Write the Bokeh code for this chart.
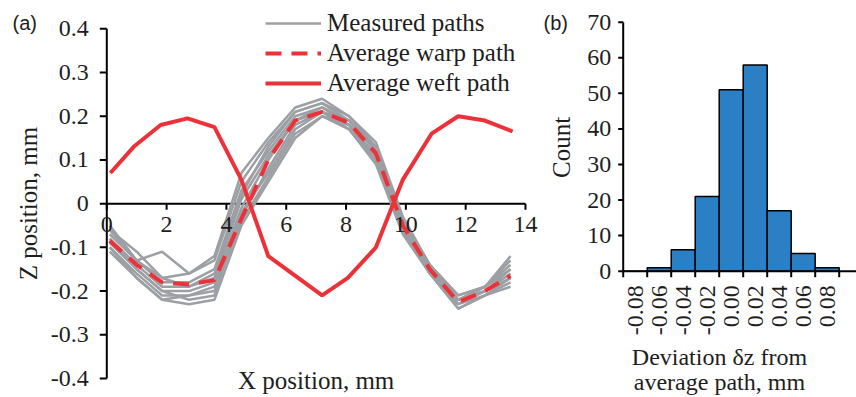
import math
from bokeh.plotting import figure
from bokeh.models import Legend, LegendItem, Label, LabelSet, Range1d, ColumnDataSource
from bokeh.layouts import row
from bokeh.embed import file_html
from bokeh.resources import INLINE
from bokeh.core.properties import value

# ---------------- data: panel (a) ----------------
x_meas = [0.1, 1.0, 1.85, 2.75, 3.6, 4.5, 5.4, 6.3, 7.2, 8.1, 9.0, 9.9, 10.8, 11.75, 12.65, 13.5]
meas_1 = [-0.05, -0.13, -0.11, -0.16, -0.12, 0.07, 0.15, 0.22, 0.24, 0.20, 0.14, -0.03, -0.14, -0.21, -0.19, -0.12]
meas_2 = [-0.06, -0.11, -0.17, -0.16, -0.13, 0.05, 0.14, 0.21, 0.23, 0.19, 0.13, -0.04, -0.15, -0.22, -0.19, -0.14]
meas_3 = [-0.07, -0.13, -0.18, -0.18, -0.15, 0.03, 0.12, 0.20, 0.22, 0.19, 0.12, -0.05, -0.15, -0.22, -0.20, -0.15]
meas_4 = [-0.08, -0.14, -0.19, -0.19, -0.17, 0.01, 0.11, 0.19, 0.22, 0.18, 0.11, -0.05, -0.15, -0.23, -0.20, -0.16]
meas_5 = [-0.09, -0.15, -0.20, -0.20, -0.18, -0.01, 0.10, 0.19, 0.21, 0.18, 0.11, -0.06, -0.16, -0.23, -0.21, -0.17]
meas_6 = [-0.10, -0.16, -0.21, -0.21, -0.19, -0.03, 0.08, 0.18, 0.21, 0.17, 0.10, -0.06, -0.16, -0.24, -0.21, -0.18]
meas_7 = [-0.11, -0.17, -0.22, -0.21, -0.20, -0.04, 0.06, 0.16, 0.20, 0.17, 0.09, -0.07, -0.16, -0.24, -0.21, -0.19]
meas_8 = [-0.10, -0.17, -0.22, -0.23, -0.22, -0.05, 0.05, 0.15, 0.20, 0.18, 0.10, -0.06, -0.15, -0.22, -0.20, -0.17]
meas_9 = [-0.08, -0.15, -0.20, -0.22, -0.21, -0.02, 0.07, 0.17, 0.21, 0.19, 0.12, -0.05, -0.14, -0.22, -0.19, -0.15]
meas_10 = [-0.06, -0.13, -0.17, -0.19, -0.16, 0.02, 0.13, 0.21, 0.23, 0.20, 0.13, -0.04, -0.14, -0.21, -0.19, -0.13]

x_warp = [0.1, 1.0, 1.85, 2.75, 3.6, 4.5, 5.4, 6.3, 7.2, 8.1, 9.0, 9.9, 10.8, 11.75, 12.65, 13.5]
warp_avg = [-0.085, -0.14, -0.18, -0.185, -0.175, -0.035, 0.10, 0.19, 0.21, 0.185, 0.115, -0.05, -0.15, -0.225, -0.20, -0.165]

x_weft = [0.12, 0.9, 1.8, 2.7, 3.6, 4.5, 5.4, 7.2, 8.06, 9.0, 9.9, 10.86, 11.75, 12.64, 13.57]
weft_avg = [0.07, 0.13, 0.18, 0.195, 0.175, 0.055, -0.12, -0.21, -0.17, -0.10, 0.055, 0.16, 0.20, 0.19, 0.165]

x_ticks_a = [0, 2, 4, 6, 8, 10, 12, 14]
x_labels_a = ["0", "2", "4", "6", "8", "10", "12", "14"]
y_ticks_a = [0.4, 0.3, 0.2, 0.1, 0.0, -0.1, -0.2, -0.3, -0.4]
y_labels_a = ["0.4", "0.3", "0.2", "0.1", "0", "-0.1", "-0.2", "-0.3", "-0.4"]

# ---------------- data: panel (b) ----------------
bin_labels = ["-0.08", "-0.06", "-0.04", "-0.02", "0.00", "0.02", "0.04", "0.06", "0.08"]
bin_counts = [0, 1, 6, 21, 51, 58, 17, 5, 1]
y_ticks_b = [0, 10, 20, 30, 40, 50, 60, 70]
y_labels_b = ["0", "10", "20", "30", "40", "50", "60", "70"]

SERIF = "Liberation Serif"
SANS = "Liberation Sans"
TXT = "#1e1e1e"
GRAY = "#9c9fa4"
RED = "#ec3238"
BLUE = "#2a7fc5"


def bare_figure(w, h, xr, yr):
    p = figure(width=w, height=h, x_range=Range1d(*xr), y_range=Range1d(*yr),
               x_axis_location=None, y_axis_location=None,
               output_backend="svg", toolbar_location=None,
               min_border_left=0, min_border_right=0, min_border_top=0, min_border_bottom=0)
    p.grid.visible = False
    p.outline_line_color = None
    p.background_fill_color = "white"
    p.border_fill_color = "white"
    return p


def label(p, x, y, text, size="24px", font=SERIF, align="center", baseline="middle", angle=0.0):
    p.add_layout(Label(x=x, y=y, text=text, text_align=align, text_baseline=baseline,
                       text_font=font, text_font_size=size, text_color=TXT, angle=angle))


def tick_labels(p, xs, ys, texts, **kw):
    src = ColumnDataSource(dict(x=xs, y=ys, t=texts))
    p.add_layout(LabelSet(x="x", y="y", text="t", source=src, text_font=value(SERIF),
                          text_font_size="24px", text_color=TXT, **kw))


# ---------------- panel (a) ----------------
# frame = whole canvas; ranges chosen so the axes sit where the reference has them
p1 = bare_figure(540, 397, (-3.554, 14.502), (-0.4435, 0.4647))

# y axis (at x = 0)
p1.segment(x0=0, y0=min(y_ticks_a), x1=0, y1=max(y_ticks_a), line_color="black", line_width=2)
p1.ray(x=[0] * len(y_ticks_a), y=y_ticks_a, length=7, length_units="screen", angle=math.pi,
       line_color="black", line_width=2)
tick_labels(p1, [0] * len(y_ticks_a), y_ticks_a, y_labels_a, x_offset=-18,
            text_align="right", text_baseline="middle")
# x axis (at z = 0)
p1.segment(x0=min(x_ticks_a), y0=0, x1=max(x_ticks_a), y1=0, line_color="black", line_width=2)
p1.ray(x=x_ticks_a, y=[0] * len(x_ticks_a), length=6, length_units="screen", angle=-math.pi / 2,
       line_color="black", line_width=2)
tick_labels(p1, x_ticks_a, [0] * len(x_ticks_a), x_labels_a, y_offset=-13,
            text_align="center", text_baseline="top")

meas_all = [meas_1, meas_2, meas_3, meas_4, meas_5, meas_6, meas_7, meas_8, meas_9, meas_10]
r_meas = p1.multi_line(xs=[x_meas] * len(meas_all), ys=meas_all, line_color=GRAY, line_width=2.5)
r_weft = p1.line(x_weft, weft_avg, line_color=RED, line_width=4)
r_warp = p1.line(x_warp, warp_avg, line_color=RED, line_width=4, line_dash="16 10")

legend = Legend(items=[LegendItem(label="Measured paths", renderers=[r_meas]),
                       LegendItem(label="Average warp path", renderers=[r_warp]),
                       LegendItem(label="Average weft path", renderers=[r_weft])],
                location=(265, 299))
legend.label_text_font = SERIF
legend.label_text_font_size = "25px"
legend.label_text_color = TXT
legend.glyph_width = 56
legend.glyph_height = 30
legend.label_height = 30
legend.spacing = 0
legend.padding = 0
legend.margin = 0
legend.label_standoff = 6
legend.border_line_color = None
legend.background_fill_alpha = 0
p1.add_layout(legend)

label(p1, -2.62, 0.0, "Z position, mm", size="25px", angle=math.pi / 2)
label(p1, 7.0, -0.405, "X position, mm", size="25px")
label(p1, -3.15, 0.414, "(a)", size="20px", font=SANS, align="left")

# ---------------- panel (b) ----------------
p2 = bare_figure(316, 397, (-3.946, 9.221), (-35.51, 76.1))

bin_pos = list(range(len(bin_labels)))
bin_edges = [b - 0.5 for b in bin_pos] + [bin_pos[-1] + 0.5]
p2.vbar(x=bin_pos, top=bin_counts, width=1, fill_color=BLUE, line_color="black", line_width=1.5)

x_left = bin_edges[0]
# y axis
p2.segment(x0=x_left, y0=min(y_ticks_b), x1=x_left, y1=max(y_ticks_b), line_color="black", line_width=2)
p2.ray(x=[x_left] * len(y_ticks_b), y=y_ticks_b, length=5, length_units="screen", angle=math.pi,
       line_color="black", line_width=2)
tick_labels(p2, [x_left] * len(y_ticks_b), y_ticks_b, y_labels_b, x_offset=-12,
            text_align="right", text_baseline="middle")
# x axis (runs to the right edge)
p2.segment(x0=x_left, y0=0, x1=9.221, y1=0, line_color="black", line_width=2)
p2.ray(x=bin_edges, y=[0] * len(bin_edges), length=6, length_units="screen", angle=-math.pi / 2,
       line_color="black", line_width=2)
tick_labels(p2, bin_pos, [0] * len(bin_pos), bin_labels, y_offset=-14, angle=math.pi / 2,
            text_align="right", text_baseline="middle")

label(p2, -3.08, 34.8, "Count", size="25px", angle=math.pi / 2)
label(p2, 3.51, -24.26, "Deviation \u03b4z from")
label(p2, 3.51, -31.29, "average path, mm")
label(p2, -3.82, 69.9, "(b)", size="20px", font=SANS, align="left")

layout = row(p1, p2, spacing=0)
open("out.html", "w").write(file_html(layout, INLINE))
